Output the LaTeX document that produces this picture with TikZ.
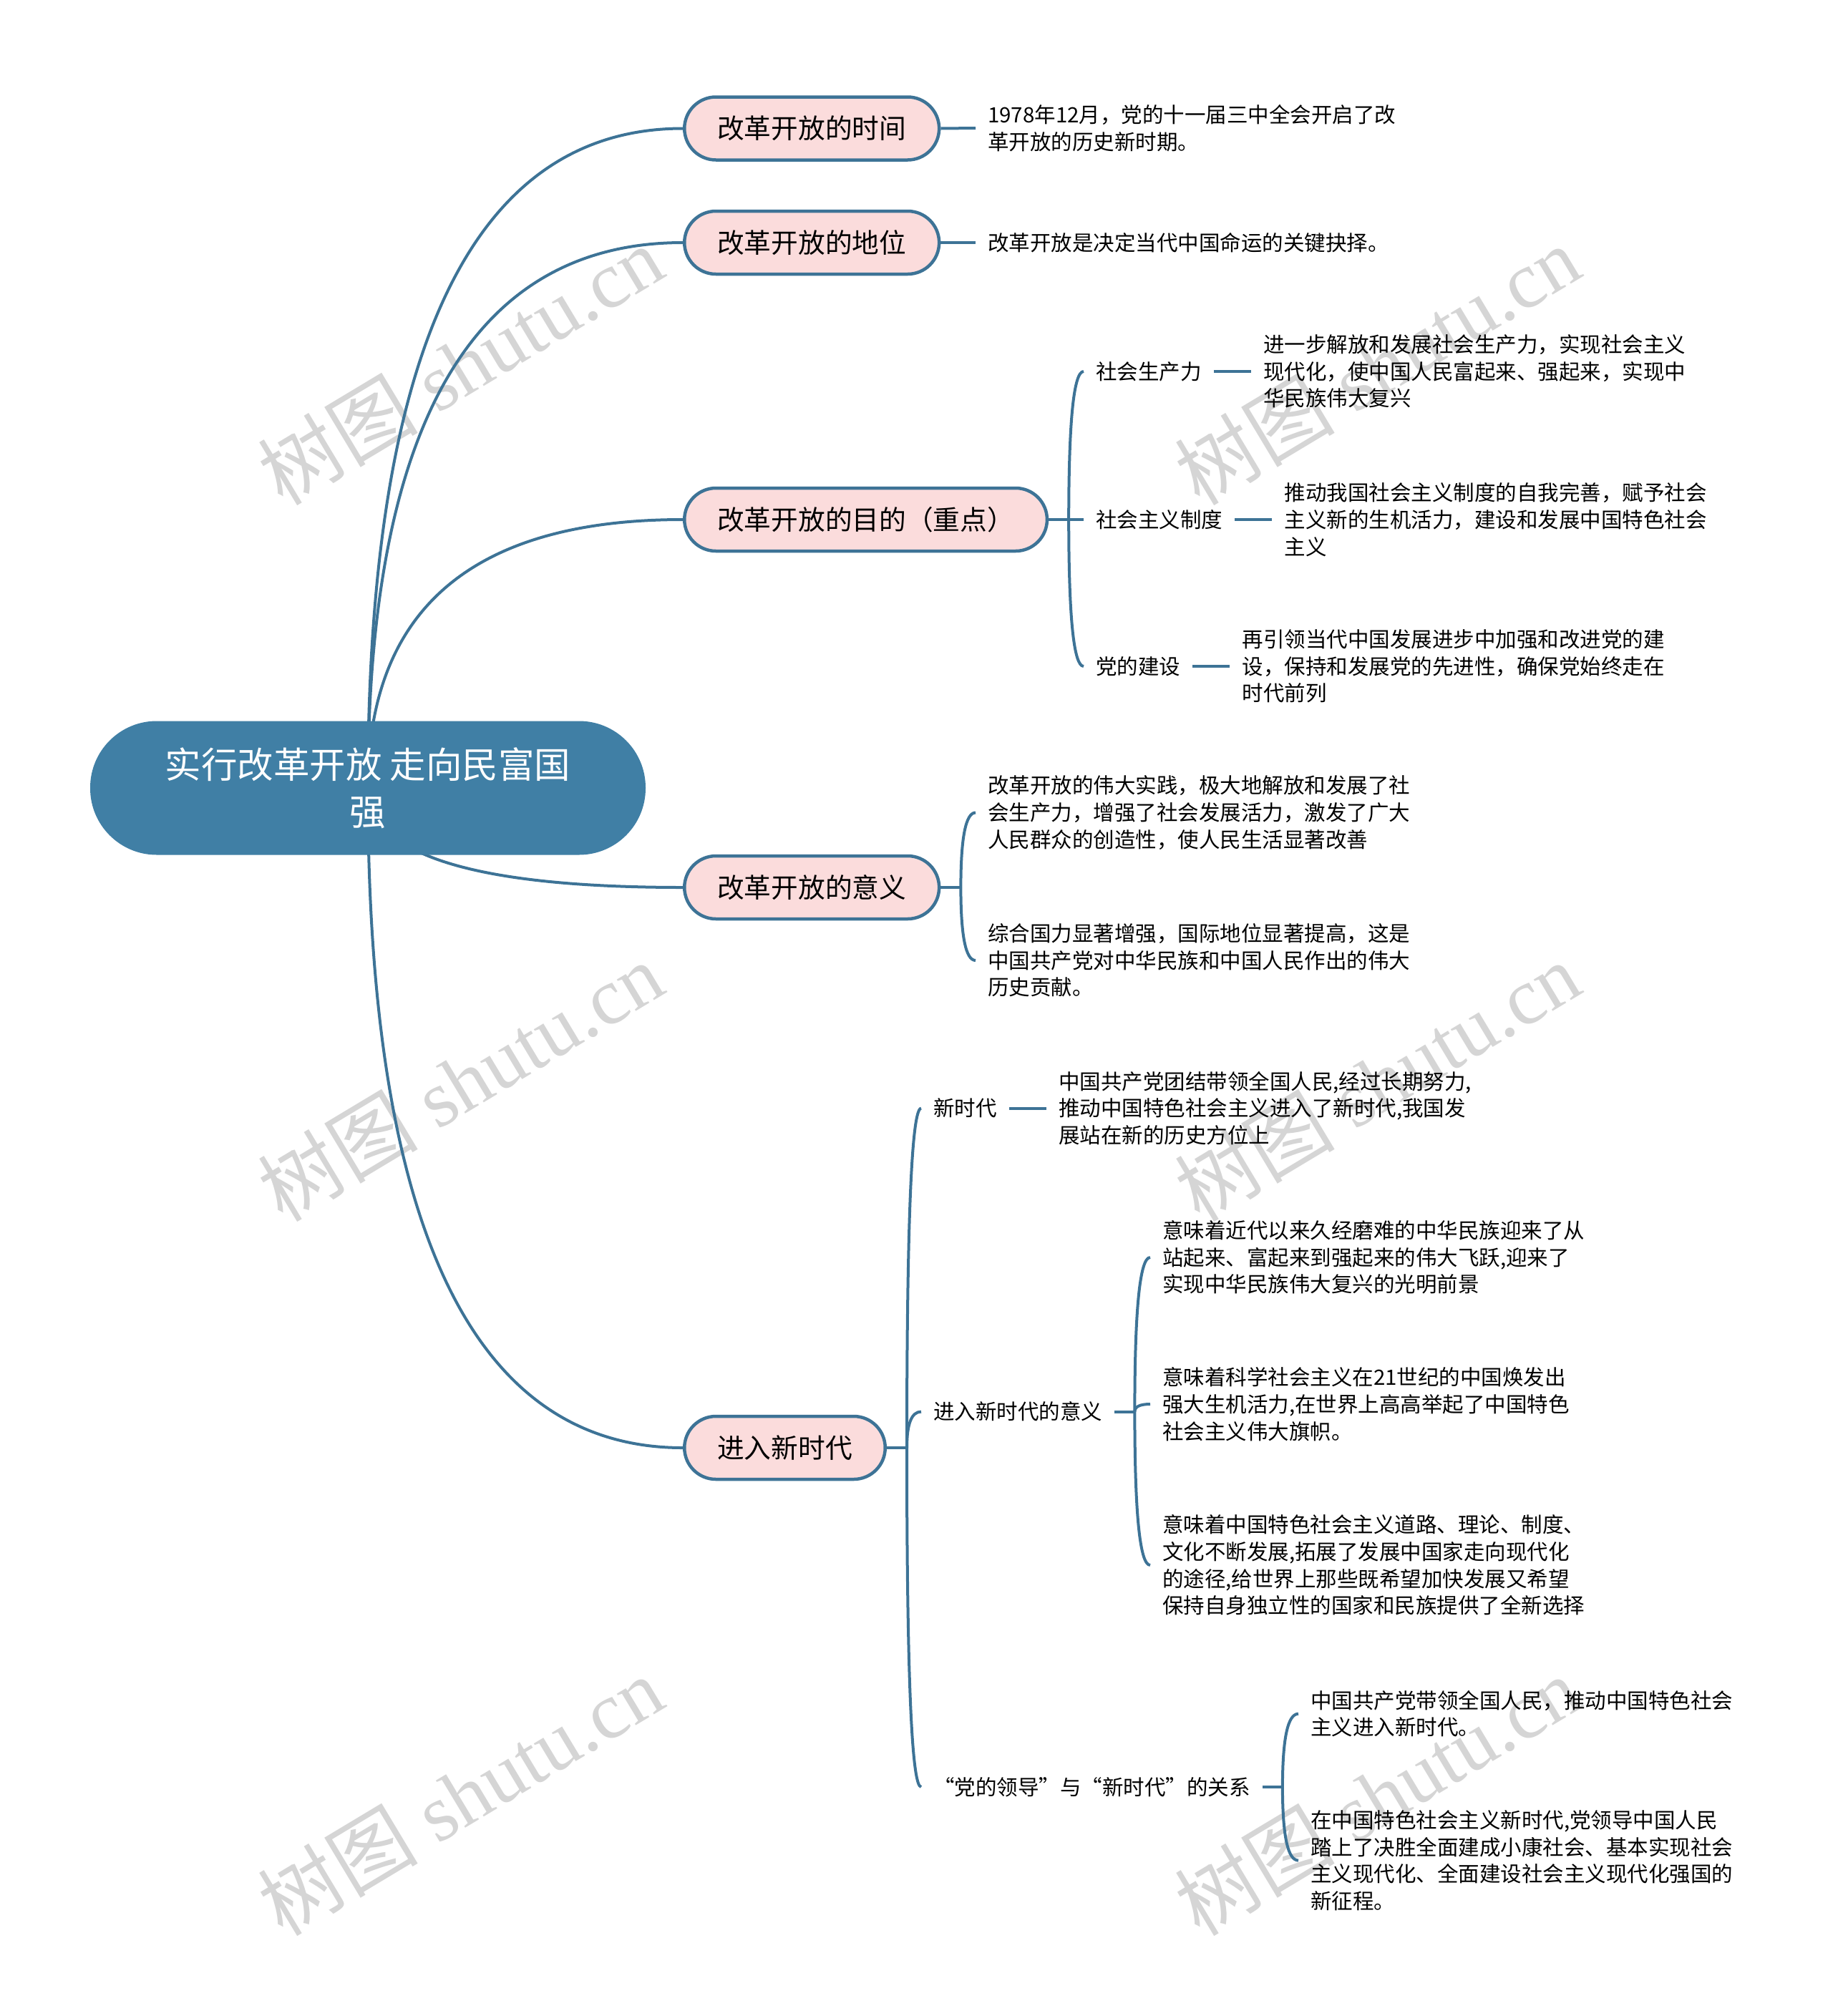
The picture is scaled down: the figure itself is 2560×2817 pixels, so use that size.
\documentclass[tikz,border=0pt]{standalone}
\usepackage{fontspec}
\setmainfont{Noto Sans CJK SC}
\newfontfamily\wmlatin{Liberation Serif}
\newfontfamily\wmcjk{Noto Sans CJK SC}
\usetikzlibrary{calc,positioning,backgrounds}
\definecolor{rootblue}{HTML}{407FA5}
\definecolor{edgeblue}{HTML}{3D7396}
\definecolor{pinkfill}{HTML}{FBDCDC}
\definecolor{wmgray}{HTML}{D5D5D5}
\newcommand\qcv[2]{(#1) .. controls ($(#1)!0.6667!(#1|-#2)$) and ($(#2)!0.6667!(#1|-#2)$) .. (#2)}
\tikzset{
  rootnode/.style={rectangle, rounded corners=93pt, fill=rootblue, text=white,
    minimum width=776pt, minimum height=187pt, align=center, inner sep=0pt,
    font=\fontsize{50.5pt}{66pt}\selectfont},
  branch/.style={rectangle, rounded corners=44pt, draw=edgeblue, line width=4.5pt,
    fill=pinkfill, minimum height=88pt, inner xsep=46pt, inner ysep=0pt, anchor=west,
    font=\fontsize{37.7pt}{45pt}\selectfont},
  sublabel/.style={inner xsep=17pt, inner ysep=3pt, anchor=west,
    font=\fontsize{29.5pt}{37.7pt}\selectfont},
  leaf/.style={sublabel, align=left},
  conn/.style={draw=edgeblue, line width=4pt},
  wm/.style={text=wmgray, rotate=31, inner sep=0pt,
    font=\wmlatin\fontsize{112pt}{112pt}\selectfont}
}
\begin{document}
\begin{tikzpicture}[x=1pt,y=-1pt]
\useasboundingbox (0,0) rectangle (2560,2817);
% root and main branches
\node[rootnode] (root) at (514,1101) {实行改革开放 走向民富国\\强};
\node[branch] (n1) at (954,179.5) {改革开放的时间};
\node[branch] (n2) at (954,339) {改革开放的地位};
\node[branch] (n3) at (954,726) {改革开放的目的（重点）};
\node[branch] (n4) at (954,1240) {改革开放的意义};
\node[branch] (n5) at (954,2023) {进入新时代};
% branch 1, 2
\node[leaf] (l1) at (1363,179) {1978年12月，党的十一届三中全会开启了改\\革开放的历史新时期。};
\node[leaf] (l2) at (1363,339) {改革开放是决定当代中国命运的关键抉择。};
% branch 3
\coordinate (j3) at ($(n3.east)+(28,0)$);
\node[sublabel] (c31) at (1514,519) {社会生产力};
\node[sublabel] (c32) at (1514,726) {社会主义制度};
\node[sublabel] (c33) at (1514,931) {党的建设};
\node[leaf, right=52pt of c31] (l31) {进一步解放和发展社会生产力，实现社会主义\\现代化，使中国人民富起来、强起来，实现中\\华民族伟大复兴};
\node[leaf, right=52pt of c32] (l32) {推动我国社会主义制度的自我完善，赋予社会\\主义新的生机活力，建设和发展中国特色社会\\主义};
\node[leaf, right=52pt of c33] (l33) {再引领当代中国发展进步中加强和改进党的建\\设，保持和发展党的先进性，确保党始终走在\\时代前列};
% branch 4
\coordinate (j4) at ($(n4.east)+(28,0)$);
\node[leaf] (l41) at (1363,1135.5) {改革开放的伟大实践，极大地解放和发展了社\\会生产力，增强了社会发展活力，激发了广大\\人民群众的创造性，使人民生活显著改善};
\node[leaf] (l42) at (1363,1342) {综合国力显著增强，国际地位显著提高，这是\\中国共产党对中华民族和中国人民作出的伟大\\历史贡献。};
% branch 5
\coordinate (j5) at ($(n5.east)+(28,0)$);
\node[sublabel] (c51) at (1287,1548.6) {新时代};
\node[sublabel] (c52) at (1287,1972.6) {进入新时代的意义};
\node[sublabel] (c53) at (1287,2497) {“党的领导”与“新时代”的关系};
\node[leaf, right=52pt of c51] (l51) {中国共产党团结带领全国人民,经过长期努力,\\推动中国特色社会主义进入了新时代,我国发\\展站在新的历史方位上};
\coordinate (j52) at ($(c52.east)+(28,0)$);
\node[leaf] (la) at (1607,1757) {意味着近代以来久经磨难的中华民族迎来了从\\站起来、富起来到强起来的伟大飞跃,迎来了\\实现中华民族伟大复兴的光明前景};
\node[leaf] (lb) at (1607,1962) {意味着科学社会主义在21世纪的中国焕发出\\强大生机活力,在世界上高高举起了中国特色\\社会主义伟大旗帜。};
\node[leaf] (lc) at (1607,2187) {意味着中国特色社会主义道路、理论、制度、\\文化不断发展,拓展了发展中国家走向现代化\\的途径,给世界上那些既希望加快发展又希望\\保持自身独立性的国家和民族提供了全新选择};
\coordinate (j53) at ($(c53.east)+(28,0)$);
\node[leaf] (ld) at (1814,2394.7) {中国共产党带领全国人民，推动中国特色社会\\主义进入新时代。};
\node[leaf] (le) at (1814,2599.6) {在中国特色社会主义新时代,党领导中国人民\\踏上了决胜全面建成小康社会、基本实现社会\\主义现代化、全面建设社会主义现代化强国的\\新征程。};
\begin{pgfonlayer}{background}
% watermarks
\node[wm] (w1) at (643,510) {{\wmcjk 树图} shutu.cn};
\node[wm] (w2) at (1924,510) {{\wmcjk 树图} shutu.cn};
\node[wm] (w3) at (643,1511) {{\wmcjk 树图} shutu.cn};
\node[wm] (w4) at (1924,1511) {{\wmcjk 树图} shutu.cn};
\node[wm] (w5) at (643,2509) {{\wmcjk 树图} shutu.cn};
\node[wm] (w6) at (1924,2509) {{\wmcjk 树图} shutu.cn};
% root connectors
\draw[conn] \qcv{root.center}{n1.west};
\draw[conn] \qcv{root.center}{n2.west};
\draw[conn] \qcv{root.center}{n3.west};
\draw[conn] \qcv{root.center}{n4.west};
\draw[conn] \qcv{root.center}{n5.west};
% branch 1,2
\draw[conn] (n1.east) -- (l1.west);
\draw[conn] (n2.east) -- (l2.west);
% branch 3
\draw[conn] (n3.east) -- (j3);
\draw[conn] \qcv{j3}{c31.west};
\draw[conn] \qcv{j3}{c32.west};
\draw[conn] \qcv{j3}{c33.west};
\draw[conn] (c31.east) -- (l31.west);
\draw[conn] (c32.east) -- (l32.west);
\draw[conn] (c33.east) -- (l33.west);
% branch 4
\draw[conn] (n4.east) -- (j4);
\draw[conn] \qcv{j4}{l41.west};
\draw[conn] \qcv{j4}{l42.west};
% branch 5
\draw[conn] (n5.east) -- (j5);
\draw[conn] \qcv{j5}{c51.west};
\draw[conn] \qcv{j5}{c52.west};
\draw[conn] \qcv{j5}{c53.west};
\draw[conn] (c51.east) -- (l51.west);
\draw[conn] (c52.east) -- (j52);
\draw[conn] \qcv{j52}{la.west};
\draw[conn] \qcv{j52}{lb.west};
\draw[conn] \qcv{j52}{lc.west};
\draw[conn] (c53.east) -- (j53);
\draw[conn] \qcv{j53}{ld.west};
\draw[conn] \qcv{j53}{le.west};
\end{pgfonlayer}
\end{tikzpicture}
\end{document}
